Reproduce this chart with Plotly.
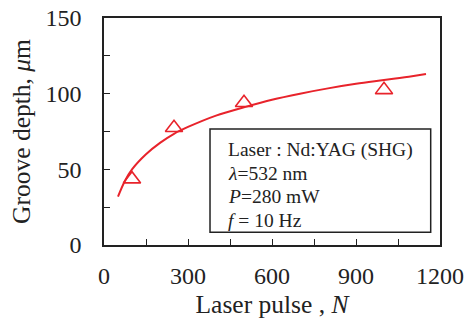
import plotly.graph_objects as go

# Measured data points
pulse_n = [100, 250, 500, 1000]
depth_um = [43.5, 77.5, 94, 102.5]

# Fitted curve
fit_n = [50, 75, 100, 150, 200, 250, 300, 400, 500, 600, 700, 800, 900, 1000, 1100, 1150]
fit_depth = [32, 42.5, 50, 60, 67.5, 73.5, 78, 85.5, 91, 96, 100, 103.5, 106.5, 109, 111.5, 113]

box_lines = ["Laser : Nd:YAG (SHG)", "<i>λ</i>=532 nm", "<i>P</i>=280 mW", "<i>f</i> = 10 Hz"]

RED = "#e8232b"
FONT = "Liberation Serif"
INK = "#222"

fig = go.Figure()
fig.add_trace(go.Scatter(x=fit_n, y=fit_depth, mode="lines",
                         line=dict(color=RED, width=2, shape="spline"), showlegend=False))
fig.add_trace(go.Scatter(x=pulse_n, y=depth_um, mode="markers",
                         marker=dict(symbol="triangle-up-open", size=15, color=RED,
                                     line=dict(width=1.6, color=RED)), showlegend=False))

axis_common = dict(showline=True, linecolor=INK, linewidth=1.5, mirror=True,
                   ticks="inside", ticklen=6, tickwidth=1.3, tickcolor=INK,
                   showgrid=False, zeroline=False, automargin=False,
                   ticklabeloverflow="allow",
                   tickfont=dict(family=FONT, size=24, color=INK))

fig.update_xaxes(range=[0, 1200], dtick=300, tick0=0, ticklabelstandoff=8,
                 minor=dict(dtick=150, ticks="inside", ticklen=6, tickwidth=1.3, tickcolor=INK),
                 title=dict(text="Laser pulse , <i>N</i>", font=dict(family=FONT, size=25.5, color=INK),
                            standoff=8),
                 **axis_common)
fig.update_yaxes(range=[0, 150], dtick=50, tick0=0, ticklabelstandoff=16,
                 minor=dict(dtick=25, ticks="inside", ticklen=6, tickwidth=1.3, tickcolor=INK),
                 title=dict(text="Groove depth, <i>μ</i>m", font=dict(family=FONT, size=25.5, color=INK),
                            standoff=8),
                 **axis_common)

fig.add_shape(type="rect", xref="paper", yref="paper", x0=0.3155, x1=0.9723, y0=0.056, y1=0.511,
              line=dict(color=INK, width=1.5), fillcolor="white", layer="below")

ys = [0.4185, 0.317, 0.2115, 0.110]
for txt, yy in zip(box_lines, ys):
    fig.add_annotation(text=txt, xref="paper", yref="paper", x=0.363, y=yy,
                       xanchor="left", yanchor="middle", showarrow=False,
                       font=dict(family=FONT, size=19.5, color=INK))

fig.update_layout(width=469, height=321, margin=dict(l=104, r=29, t=18, b=76),
                  plot_bgcolor="white", paper_bgcolor="white")

# remove the browser's default 8px body margin so the figure sits at the window origin
fig.write_html("out.html", config={"displayModeBar": False},
               post_script="document.body.style.margin='0';")
